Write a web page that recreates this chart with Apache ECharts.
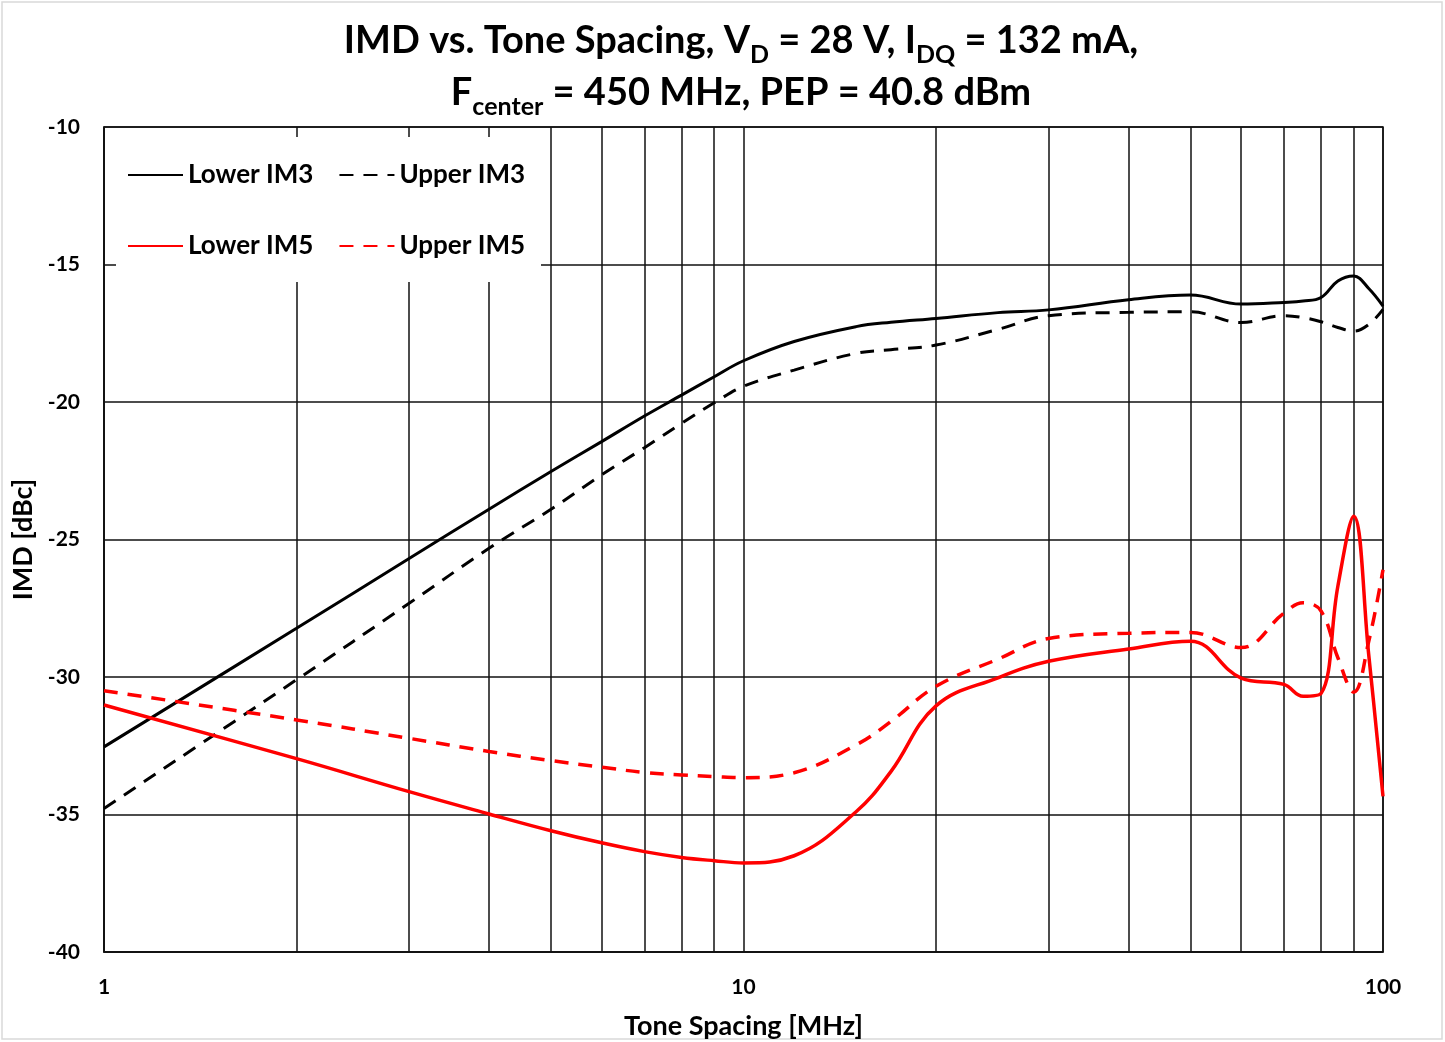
<!DOCTYPE html>
<html>
<head>
<meta charset="utf-8">
<script src="https://cdn.jsdelivr.net/npm/echarts@6/dist/echarts.min.js"></script>
<style>
  html, body { margin: 0; padding: 0; background: #fff; }
  #chart { width: 1445px; height: 1042px; }
</style>
</head>
<body>
<div id="chart"></div>
<script>
// tone spacing [MHz]
var freq = [1, 2, 3, 4, 5, 6, 7, 8, 9, 10, 12, 15, 17, 20, 25, 30, 40, 50, 60, 70, 75, 80, 85, 90, 95, 100];
// IMD [dBc]
var lowerIM3 = [-32.54, -28.23, -25.69, -23.9, -22.53, -21.44, -20.51, -19.75, -19.08, -18.5, -17.8, -17.26, -17.1, -16.96, -16.75, -16.65, -16.28, -16.11, -16.44, -16.38, -16.33, -16.2, -15.6, -15.42, -15.87, -16.51];
var upperIM3 = [-34.78, -30.1, -27.32, -25.32, -23.9, -22.65, -21.66, -20.78, -20.03, -19.43, -18.84, -18.23, -18.1, -17.93, -17.36, -16.86, -16.74, -16.72, -17.11, -16.86, -16.93, -17.08, -17.29, -17.42, -17.18, -16.63];
var lowerIM5 = [-31.02, -32.97, -34.17, -34.98, -35.59, -36.03, -36.35, -36.56, -36.68, -36.76, -36.5, -34.9, -33.44, -31.05, -30.03, -29.43, -28.98, -28.7, -30.04, -30.27, -30.7, -30.6, -26.7, -24.15, -29.2, -34.34];
var upperIM5 = [-30.5, -31.56, -32.23, -32.71, -33.04, -33.28, -33.47, -33.56, -33.62, -33.66, -33.48, -32.47, -31.62, -30.34, -29.35, -28.6, -28.41, -28.38, -28.93, -27.68, -27.3, -27.6, -29.3, -30.55, -28.7, -26.1];
// minor vertical grid lines of the log axis
var minorGrid = [2, 3, 4, 5, 6, 7, 8, 9, 20, 30, 40, 50, 60, 70, 80, 90];

var FONT = 'Lato';

function pairs(ys) {
  var out = [];
  for (var i = 0; i < freq.length; i++) {
    out.push([freq[i], ys[i]]);
  }
  return out;
}

var legendText = { fontFamily: FONT, fontSize: 26, fontWeight: 'bold', color: '#000' };

var myChart = echarts.init(document.getElementById('chart'));

var option = {
  backgroundColor: '#fff',
  animation: false,
  title: {
    left: 736,
    top: 10,
    textAlign: 'center',
    text: 'IMD vs. Tone Spacing, V{sub|D} = 28 V, I{sub|DQ} = 132 mA,\nF{sub|center} = 450 MHz, PEP = 40.8 dBm',
    textStyle: {
      fontFamily: FONT,
      fontSize: 38,
      fontWeight: 'bold',
      color: '#000',
      lineHeight: 52,
      rich: {
        sub: {
          fontFamily: FONT,
          fontSize: 25,
          fontWeight: 'bold',
          color: '#000',
          lineHeight: 22,
          verticalAlign: 'bottom'
        }
      }
    }
  },
  graphic: [
    {
      type: 'rect',
      z: 0,
      shape: { x: 2, y: 2, width: 1440, height: 1037 },
      style: { fill: 'none', stroke: '#d9d9d9', lineWidth: 1.5 }
    },
    {
      // legend background hides the grid lines
      type: 'rect',
      z: 3,
      shape: { x: 116, y: 137, width: 425, height: 145 },
      style: { fill: '#fff' }
    }
  ],
  legend: [
    {
      data: ['Lower IM3', 'Upper IM3'],
      left: 122,
      top: 157,
      itemWidth: 55,
      itemHeight: 14,
      itemGap: 25,
      z: 5,
      itemStyle: { opacity: 0 },
      textStyle: legendText
    },
    {
      data: ['Lower IM5', 'Upper IM5'],
      left: 122,
      top: 228,
      itemWidth: 55,
      itemHeight: 14,
      itemGap: 25,
      z: 5,
      itemStyle: { opacity: 0 },
      textStyle: legendText
    }
  ],
  grid: {
    left: 104,
    right: 62,
    top: 127,
    bottom: 90,
    show: true,
    borderColor: '#111',
    borderWidth: 1.5,
    containLabel: false,
    outerBoundsMode: 'none'
  },
  xAxis: {
    type: 'log',
    logBase: 10,
    min: 1,
    max: 100,
    name: 'Tone Spacing [MHz]',
    nameLocation: 'middle',
    nameGap: 61,
    nameTextStyle: { fontFamily: FONT, fontSize: 27, fontWeight: 'bold', color: '#000' },
    axisLine: { show: true, lineStyle: { color: '#111', width: 1.5 } },
    axisTick: { show: false },
    axisLabel: { fontFamily: FONT, fontSize: 21, fontWeight: 'bold', color: '#000', margin: 25 },
    splitLine: { show: true, lineStyle: { color: '#111', width: 1.5 } }
  },
  yAxis: {
    type: 'value',
    min: -40,
    max: -10,
    interval: 5,
    name: 'IMD [dBc]',
    nameLocation: 'middle',
    nameGap: 64,
    nameTextStyle: { fontFamily: FONT, fontSize: 27, fontWeight: 'bold', color: '#000' },
    axisLine: { show: true, lineStyle: { color: '#111', width: 1.5 } },
    axisTick: { show: false },
    axisLabel: { fontFamily: FONT, fontSize: 21, fontWeight: 'bold', color: '#000', margin: 24 },
    splitLine: { show: true, lineStyle: { color: '#111', width: 1.5 } }
  },
  series: [
    {
      name: 'Lower IM3',
      type: 'line',
      smooth: 0.4,
      symbol: 'none',
      z: 4,
      data: pairs(lowerIM3),
      lineStyle: { color: '#000', width: 3 },
      itemStyle: { color: '#000' },
      markLine: {
        silent: true,
        symbol: 'none',
        label: { show: false },
        z: 1,
        lineStyle: { color: '#111', width: 1.5, type: 'solid' },
        data: minorGrid.map(function (v) { return { xAxis: v }; })
      }
    },
    {
      name: 'Upper IM3',
      type: 'line',
      smooth: 0.4,
      symbol: 'none',
      z: 4,
      data: pairs(upperIM3),
      lineStyle: { color: '#000', width: 3, type: [14, 10] },
      itemStyle: { color: '#000' }
    },
    {
      name: 'Lower IM5',
      type: 'line',
      smooth: 0.4,
      symbol: 'none',
      z: 4,
      data: pairs(lowerIM5),
      lineStyle: { color: '#ff0000', width: 3.5 },
      itemStyle: { color: '#ff0000' }
    },
    {
      name: 'Upper IM5',
      type: 'line',
      smooth: 0.4,
      symbol: 'none',
      z: 4,
      data: pairs(upperIM5),
      lineStyle: { color: '#ff0000', width: 3.5, type: [14, 10] },
      itemStyle: { color: '#ff0000' }
    }
  ]
};

myChart.setOption(option);
window.addEventListener('resize', function () {
  myChart.resize();
});
</script>
</body>
</html>
